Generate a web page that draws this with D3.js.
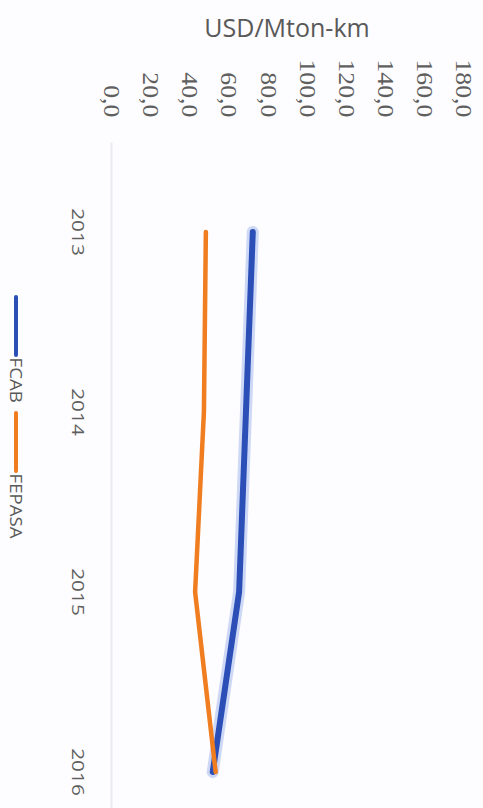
<!DOCTYPE html>
<html>
<head>
<meta charset="utf-8">
<script src="https://cdnjs.cloudflare.com/ajax/libs/d3/7.8.5/d3.min.js"></script>
<style>
  body { margin: 0; background: #fdfcfe; }
  svg { display: block; }
  .axis text { fill: #5f5f5f; }
</style>
</head>
<body>
<div id="chart"></div>
<script>
(function(d3) {
  "use strict";

  // données
  var years = ["2013", "2014", "2015", "2016"];
  var fcab = [72.0, 68.5, 65.0, 51.5];
  var fepasa = [48.0, 47.0, 42.5, 53.0];
  var valueTicks = [0, 20, 40, 60, 80, 100, 120, 140, 160, 180];
  var seriesNames = ["FCAB", "FEPASA"];
  var colors = ["#2b4fb6", "#f07d20"];

  var W = 483, H = 808;

  var svg = d3.select("#chart").append("svg")
      .attr("width", W)
      .attr("height", H);

  svg.append("rect")
      .attr("width", W).attr("height", H)
      .attr("fill", "#fdfcfe");

  // le graphique entier est tourné de 90° (u = vertical écran, v = W - x écran)
  var g = svg.append("g")
      .attr("transform", `translate(${W},0) rotate(90)`);

  var x = d3.scaleBand()
      .domain(years)
      .range([142, 862]);

  var y = d3.scaleLinear()
      .domain([0, 180])
      .range([W - 112, W - 464]);

  var fmt = function(d) { return d.toFixed(1).replace(".", ","); };

  // axe des valeurs
  var yAxis = g.append("g")
      .attr("class", "axis")
      .attr("transform", `translate(${x.range()[0]},0)`)
      .call(d3.axisLeft(y).tickValues(valueTicks).tickFormat(fmt).tickSize(0).tickPadding(22));
  yAxis.select(".domain").remove();
  yAxis.selectAll("text")
      .attr("font-family", "Liberation Serif")
      .attr("font-size", 23)
      .attr("fill", "#666")
      .attr("transform", "scale(1.12,1)");

  // axe des années
  var xAxis = g.append("g")
      .attr("class", "axis")
      .attr("transform", `translate(0,${y(0)})`)
      .call(d3.axisBottom(x).tickSize(0).tickSizeOuter(0).tickPadding(29));
  xAxis.select(".domain")
      .attr("stroke", "#ebeaf0")
      .attr("stroke-width", 2);
  xAxis.selectAll("text")
      .attr("font-family", "Open Sans")
      .attr("font-size", 16)
      .attr("fill", "#555")
      .attr("transform", "scale(1.3,1)");

  // titre de l'axe
  g.append("text")
      .attr("transform", `translate(37,${W - 287}) rotate(-90)`)
      .attr("text-anchor", "middle")
      .attr("font-family", "Open Sans")
      .attr("font-size", 25)
      .attr("fill", "#595959")
      .text("USD/Mton-km");

  var line = d3.line()
      .x((d, i) => x(years[i]) + x.bandwidth() / 2)
      .y(d => y(d));

  // halo de la courbe FCAB
  g.append("path")
      .datum(fcab)
      .attr("fill", "none")
      .attr("stroke", "#9db4ee")
      .attr("stroke-opacity", 0.5)
      .attr("stroke-width", 12)
      .attr("stroke-linecap", "round")
      .attr("d", line);

  g.append("path")
      .datum(fcab)
      .attr("fill", "none")
      .attr("stroke", colors[0])
      .attr("stroke-width", 6)
      .attr("stroke-linecap", "round")
      .attr("stroke-linejoin", "round")
      .attr("d", line);

  g.append("path")
      .datum(fepasa)
      .attr("fill", "none")
      .attr("stroke", colors[1])
      .attr("stroke-width", 4.5)
      .attr("stroke-linecap", "round")
      .attr("stroke-linejoin", "round")
      .attr("d", line);

  // légende
  var legendPos = [297, 413];
  var legend = g.append("g")
      .attr("transform", `translate(0,${W - 16})`);
  seriesNames.forEach(function(name, i) {
    var item = legend.append("g")
        .attr("transform", `translate(${legendPos[i]},0)`);
    item.append("line")
        .attr("x1", 0).attr("x2", 58)
        .attr("stroke", colors[i])
        .attr("stroke-width", 4)
        .attr("stroke-linecap", "round");
    item.append("text")
        .attr("x", 55)
        .attr("dy", "0.36em")
        .attr("font-family", "Open Sans")
        .attr("font-size", 17)
        .attr("fill", "#595959")
        .attr("transform", "scale(1.1,1)")
        .text(name);
  });

})(d3);
</script>
</body>
</html>
